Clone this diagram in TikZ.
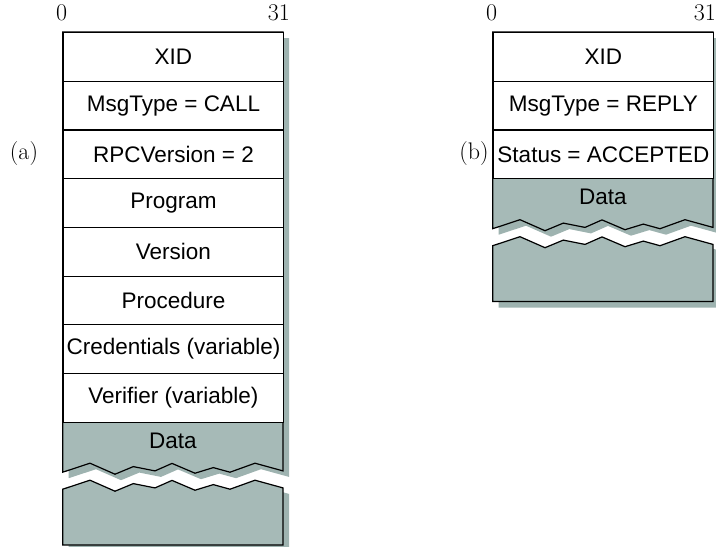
\documentclass[tikz,border=0pt]{standalone}
\usepackage{fontspec}
\newfontfamily\boxfont{Liberation Sans}
\definecolor{datafill}{RGB}{166,186,183}
\definecolor{shadowfill}{RGB}{158,179,176}
\tikzset{
  zig/.style={insert path={-- ++(27.3,-9) -- ++(25,11) -- ++(18.3,-7.6) -- ++(21.7,4.3) -- ++(17,-7.5) -- ++(23,9.8) -- ++(18.3,-5.6) -- ++(16.7,4.6) -- ++(25,-9) -- ++(28,7.7)}},
  outline/.style={draw=black, line width=1.2pt, line join=miter},
  row/.style={outline, fill=white, minimum width=220.3pt, minimum height=48.7pt, inner sep=0pt, anchor=north west, font=\boxfont\fontsize{22.5}{26}\selectfont},
  datalabel/.style={font=\boxfont\fontsize{22.5}{26}\selectfont, inner sep=0pt},
  serif/.style={font=\fontsize{24}{28}\selectfont, inner sep=0pt},
}
\begin{document}
\begin{tikzpicture}[x=1pt, y=-1pt]
\useasboundingbox (0,0) rectangle (716,547);
% ---------------- (a) ----------------
\begin{scope}[shift={(62.7,32)}]
  \def\W{220.3}\def\D{389.6}\def\Z{440.2}\def\L{457.2}\def\B{513}
  \fill[shadowfill] (6,6) -- (6,\Z+6) [zig] -- (\W+6,6) -- cycle;
  \fill[shadowfill] (6,\L+6) [zig] -- (\W+6,\B+6) -- (6,\B+6) -- cycle;
  \draw[outline, fill=datafill] (0,0) -- (0,\Z) [zig] -- (\W,0) -- cycle;
  \draw[outline, fill=datafill] (0,\L) [zig] -- (\W,\B) -- (0,\B) -- cycle;
  \node[row] (a1) at (0,0) {XID};
  \node[row] (a2) at (0,48.7) {MsgType = CALL};
  \node[row] (a3) at (0,97.4) {RPCVersion = 2};
  \node[row] (a4) at (0,146.1) {Program};
  \node[row] (a5) at (0,194.8) {Version};
  \node[row] (a6) at (0,243.5) {Procedure};
  \node[row] (a7) at (0,292.2) {Credentials (variable)};
  \node[row] (a8) at (0,340.9) {Verifier (variable)};
  \node[datalabel] (adata) at (\W/2,\D+19) {Data};
\end{scope}
\node[serif, anchor=base] (a0) at (61.7,20) {0};
\node[serif, anchor=base east] (a31) at (290,20) {31};
\node[serif] (alabel) at (24,154) {(a)};
% ---------------- (b) ----------------
\begin{scope}[shift={(492.7,32)}]
  \def\W{220.3}\def\D{146.1}\def\Z{196.7}\def\L{213.7}\def\B{269.5}
  \fill[shadowfill] (6,6) -- (6,\Z+6) [zig] -- (\W+6,6) -- cycle;
  \fill[shadowfill] (6,\L+6) [zig] -- (\W+6,\B+6) -- (6,\B+6) -- cycle;
  \draw[outline, fill=datafill] (0,0) -- (0,\Z) [zig] -- (\W,0) -- cycle;
  \draw[outline, fill=datafill] (0,\L) [zig] -- (\W,\B) -- (0,\B) -- cycle;
  \node[row] (b1) at (0,0) {XID};
  \node[row] (b2) at (0,48.7) {MsgType = REPLY};
  \node[row] (b3) at (0,97.4) {Status = ACCEPTED};
  \node[datalabel] (bdata) at (\W/2,\D+19) {Data};
\end{scope}
\node[serif, anchor=base] (b0) at (491.7,20) {0};
\node[serif, anchor=base east] (b31) at (716,20) {31};
\node[serif] (blabel) at (474,154) {(b)};
\end{tikzpicture}
\end{document}
